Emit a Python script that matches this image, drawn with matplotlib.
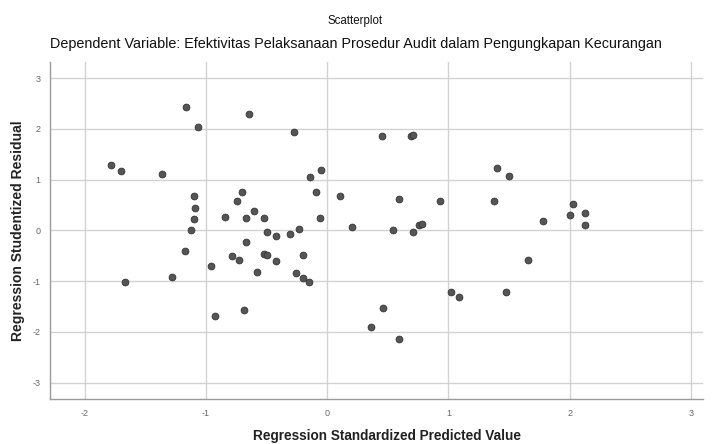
import numpy as np
import matplotlib.pyplot as plt

plt.rcParams['font.family'] = ['Liberation Sans', 'DejaVu Sans']
plt.rcParams['axes.unicode_minus'] = False

# values
pred = [-1.784, -1.70, -1.365, -1.167, -1.065, -0.644, -0.27, 0.45, 0.69, 0.71,
        -0.055, -0.14, -0.096, 0.107, 0.595, -1.098, -1.09, -1.096, -1.12, -0.70,
        -0.74, -0.84, -0.67, -0.605, -0.52, -0.063, 0.206, 0.54, 0.708, 0.76,
        0.78, -0.493, -0.424, -0.31, -0.229, 0.93, 1.38, 1.40, 1.50, 1.78,
        2.03, 2.00, 2.13, 2.13, -1.175, -1.28, -1.67, -0.96, -0.666, -0.787,
        -0.73, -0.58, -0.52, -0.50, -0.424, -0.196, -0.256, -0.196, -0.149, -0.925,
        -0.685, 0.46, 0.36, 0.59, 1.654, 1.02, 1.085, 1.476]
resid = [1.29, 1.17, 1.11, 2.43, 2.03, 2.29, 1.93, 1.85, 1.85, 1.88,
         1.19, 1.06, 0.76, 0.675, 0.62, 0.67, 0.44, 0.22, 0.01, 0.76,
         0.58, 0.27, 0.25, 0.39, 0.24, 0.236, 0.065, 0.01, -0.03, 0.10,
         0.13, -0.03, -0.11, -0.07, 0.03, 0.58, 0.58, 1.23, 1.08, 0.18,
         0.51, 0.31, 0.35, 0.10, -0.40, -0.92, -1.01, -0.70, -0.23, -0.50,
         -0.585, -0.815, -0.47, -0.49, -0.60, -0.48, -0.85, -0.93, -1.02, -1.69,
         -1.575, -1.54, -1.90, -2.14, -0.585, -1.215, -1.31, -1.22]

xticks = [-2, -1, 0, 1, 2, 3]
yticks = [-3, -2, -1, 0, 1, 2, 3]

fig = plt.figure(figsize=(7.12, 4.44), dpi=100)
ax = fig.add_axes([0.0702, 0.1007, 0.917, 0.760])

ax.scatter(pred, resid, s=24, color='#555555', edgecolors='#333333',
           linewidths=0.6, zorder=3)

ax.set_xlim(-2.287, 3.10)
ax.set_ylim(-3.33, 3.32)
ax.set_xticks(xticks)
ax.set_yticks(yticks)
ax.grid(color='#d2d2d2', lw=1.0, zorder=0)
ax.set_axisbelow(True)
ax.tick_params(length=0, labelsize=6.5, colors='#666666', pad=7)

for s in ('top', 'right'):
    ax.spines[s].set_visible(False)
for s in ('left', 'bottom'):
    ax.spines[s].set_color('#9a9a9a')
    ax.spines[s].set_linewidth(1.0)

fig.text(0.0253, 0.481, 'Regression Studentized Residual', rotation=90,
         ha='center', va='center', fontsize=10, fontweight='bold', color='#222222')
fig.text(0.544, 0.019, 'Regression Standardized Predicted Value', ha='center',
         va='center', fontsize=9.8, fontweight='bold', color='#222222')

fig.text(0.499, 0.953, 'Scatterplot', ha='center', va='center',
         fontsize=8.3, color='#111111')
fig.text(0.5, 0.900, 'Dependent Variable: Efektivitas Pelaksanaan Prosedur Audit dalam Pengungkapan Kecurangan',
         ha='center', va='center', fontsize=10.4, color='#111111')

fig.savefig('out.png', dpi=100, facecolor='white')
